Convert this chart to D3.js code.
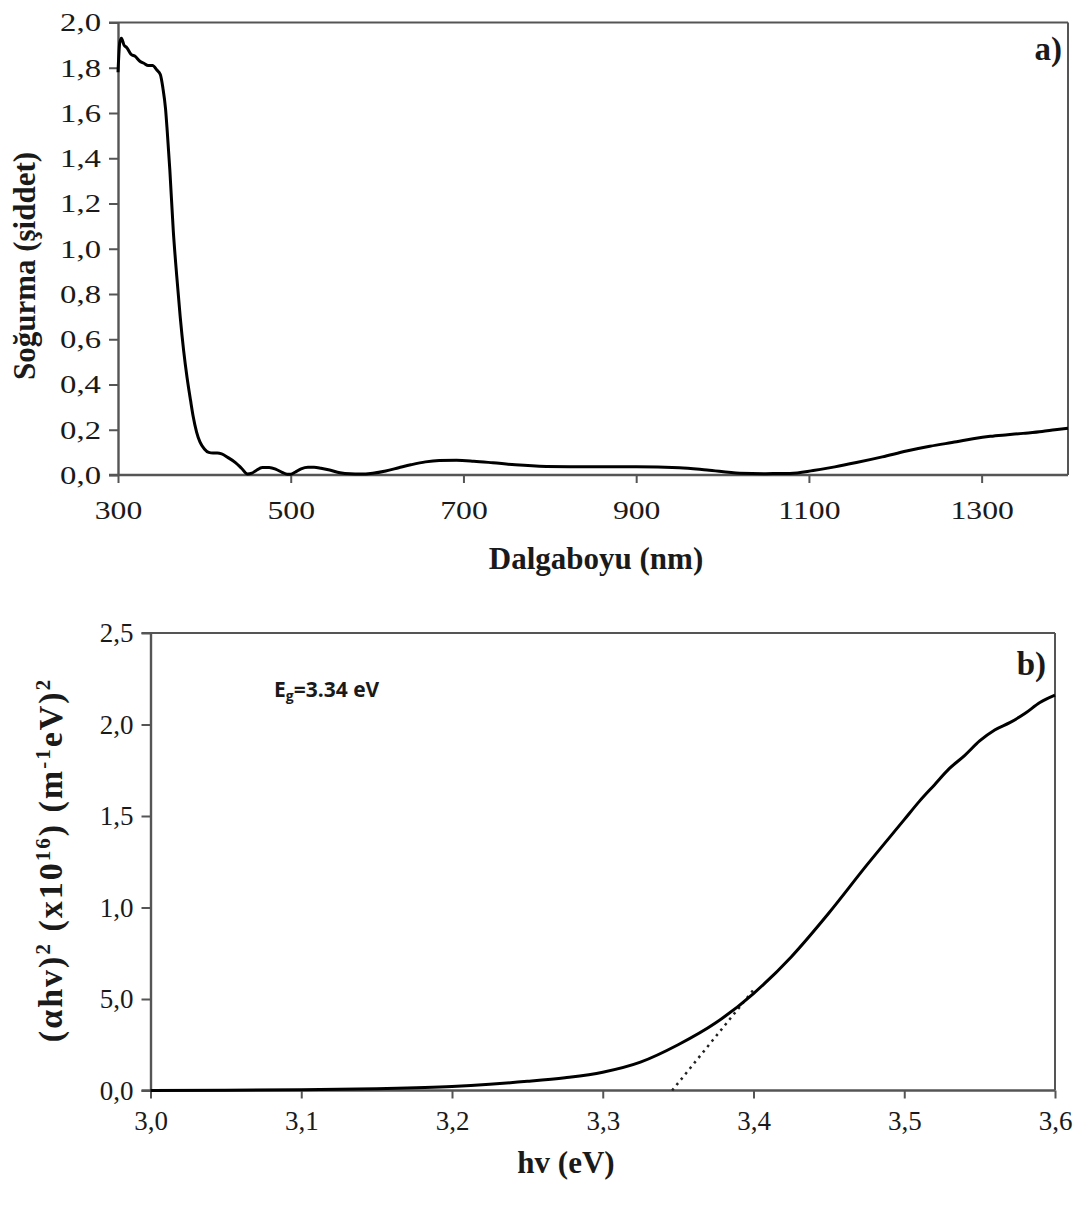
<!DOCTYPE html>
<html><head><meta charset="utf-8">
<script src="https://cdn.jsdelivr.net/npm/d3@7"></script>
<style>
body{margin:0;background:#fff}
svg text{font-family:"Liberation Serif","Times New Roman",serif;fill:#1a1a1a}
.ttl{font-weight:bold;font-size:31px}
.pa .yax .tick text{transform-box:fill-box;transform-origin:right center;transform:scaleX(1.26)}
.pa .xax .tick text{transform-box:fill-box;transform-origin:center center;transform:scaleX(1.22)}
</style></head>
<body><svg id="c" width="1082" height="1207"></svg>
<script>
// ---- Panel a data ----
const wavelength = [300,302,304,307,310,315,320,325,330,335,340,345,349,352,355,357,360,364,368,372,376,380,384,387,391,395,400,405,410,415,420,427,436,443,450,455,460,467,475,483,490,496,500,505,512,520,527,535,545,557,569,580,595,610,625,639,656,672,692,712,734,760,796,850,900,950,982,1020,1050,1078,1105,1130,1155,1185,1213,1240,1271,1290,1310,1330,1348,1370,1385,1400];
const absorbance = [1.78,1.91,1.93,1.90,1.89,1.86,1.85,1.83,1.82,1.81,1.81,1.79,1.77,1.71,1.62,1.52,1.35,1.08,0.88,0.70,0.55,0.43,0.33,0.26,0.19,0.145,0.115,0.10,0.097,0.097,0.093,0.078,0.055,0.03,0.004,0.008,0.02,0.033,0.033,0.025,0.012,0.003,0.003,0.012,0.027,0.034,0.034,0.03,0.022,0.01,0.005,0.004,0.008,0.018,0.032,0.045,0.058,0.064,0.065,0.061,0.054,0.045,0.038,0.036,0.036,0.032,0.022,0.008,0.006,0.007,0.02,0.036,0.055,0.08,0.106,0.127,0.147,0.16,0.171,0.178,0.184,0.192,0.2,0.207];
const aXTicks = [300,500,700,900,1100,1300];
const aYTicks = [0,0.2,0.4,0.6,0.8,1.0,1.2,1.4,1.6,1.8,2.0];
const aYLabels = ["0,0","0,2","0,4","0,6","0,8","1,0","1,2","1,4","1,6","1,8","2,0"];

// ---- Panel b data ----
const energy = [3.0,3.05,3.1,3.15,3.2,3.225,3.25,3.275,3.3,3.325,3.35,3.375,3.4,3.425,3.45,3.475,3.5,3.51,3.52,3.53,3.54,3.55,3.56,3.57,3.58,3.59,3.6];
const alphaHv2 = [0.0,0.001,0.004,0.01,0.022,0.034,0.05,0.07,0.10,0.155,0.25,0.37,0.53,0.73,0.97,1.23,1.48,1.58,1.67,1.76,1.83,1.91,1.97,2.01,2.06,2.12,2.16];
const tangentE = [3.346,3.4];
const tangentV = [0.0,0.55];
const bXTicks = [3.0,3.1,3.2,3.3,3.4,3.5,3.6];
const bXLabels = ["3,0","3,1","3,2","3,3","3,4","3,5","3,6"];
const bYTicks = [0,0.5,1.0,1.5,2.0,2.5];
const bYLabels = ["0,0","5,0","1,0","1,5","2,0","2,5"];

const svg = d3.select("#c");
const axisColor = "#555";

function panel(o){
  const g = svg.append("g").attr("class",o.cls);
  const x = d3.scaleLinear().domain(o.xd).range([o.x0,o.x1]);
  const y = d3.scaleLinear().domain(o.yd).range([o.y0,o.y1]);
  g.append("line").attr("x1",o.x0-9).attr("x2",o.x1).attr("y1",o.y1).attr("y2",o.y1).attr("stroke",axisColor).attr("stroke-width",2);
  g.append("line").attr("x1",o.x1).attr("x2",o.x1).attr("y1",o.y1).attr("y2",o.y0).attr("stroke",axisColor).attr("stroke-width",2);
  const ya = g.append("g").attr("class","yax").attr("transform",`translate(${o.x0},0)`)
    .call(d3.axisLeft(y).tickValues(o.yt).tickFormat((d,i)=>o.yl[i]).tickSize(9).tickPadding(o.ypad).tickSizeOuter(0));
  const xa = g.append("g").attr("class","xax").attr("transform",`translate(0,${o.y0})`)
    .call(d3.axisBottom(x).tickValues(o.xt).tickFormat((d,i)=>o.xl[i]).tickSize(8).tickPadding(o.xpad).tickSizeOuter(0));
  [ya,xa].forEach(a=>{a.select(".domain").attr("stroke",axisColor).attr("stroke-width",2.4);
    a.selectAll(".tick line").attr("stroke",axisColor).attr("stroke-width",2);
    a.selectAll(".tick text").attr("fill","#1a1a1a").style("font-size",o.fs+"px").style("font-family","'Liberation Serif',serif");});
  xa.select(".domain").attr("d",`M${o.x0-9},0H${o.x1}`);
  return {g,x,y};
}

// Panel a
const A = panel({cls:"pa",xd:[300,1400],yd:[0,2],x0:118,x1:1068,y0:475,y1:22.5,xt:aXTicks,xl:aXTicks.map(String),yt:aYTicks,yl:aYLabels,xpad:18,ypad:8,fs:26});
A.g.append("path").datum(wavelength.map((w,i)=>[w,absorbance[i]]))
  .attr("fill","none").attr("stroke","#000").attr("stroke-width",3).attr("stroke-linejoin","round")
  .attr("d",d3.line().x(d=>A.x(d[0])).y(d=>A.y(d[1])).curve(d3.curveMonotoneX));
svg.append("text").attr("class","ttl").attr("x",596).attr("y",569).attr("text-anchor","middle").text("Dalgaboyu (nm)");
svg.append("text").attr("class","ttl").attr("transform","translate(35,266) rotate(-90)").attr("text-anchor","middle").text("Soğurma (şiddet)");
svg.append("text").attr("class","ttl").attr("x",1062).attr("y",60).attr("text-anchor","end").style("font-size","33px").text("a)");

// Panel b
const B = panel({cls:"pb",xd:[3.0,3.6],yd:[0,2.5],x0:150.5,x1:1055,y0:1090.5,y1:633,xt:bXTicks,xl:bXLabels,yt:bYTicks,yl:bYLabels,xpad:12,ypad:8,fs:27});
B.g.append("path").datum(tangentE.map((e,i)=>[e,tangentV[i]]))
  .attr("fill","none").attr("stroke","#222").attr("stroke-width",2.5).attr("stroke-dasharray","2.5,4.5")
  .attr("d",d3.line().x(d=>B.x(d[0])).y(d=>B.y(d[1])));
B.g.append("path").datum(energy.map((e,i)=>[e,alphaHv2[i]]))
  .attr("fill","none").attr("stroke","#000").attr("stroke-width",3).attr("stroke-linejoin","round")
  .attr("d",d3.line().x(d=>B.x(d[0])).y(d=>B.y(d[1])).curve(d3.curveMonotoneX));
svg.append("text").attr("class","ttl").attr("x",566).attr("y",1173).attr("text-anchor","middle").style("font-size","31px").text("hv (eV)");
const yt = svg.append("text").attr("class","ttl").attr("transform","translate(62,860) rotate(-90)").attr("text-anchor","middle").style("font-size","34px").style("letter-spacing","2px");
yt.append("tspan").text("(αhv)");
yt.append("tspan").attr("baseline-shift","super").style("font-size","21px").text("2");
yt.append("tspan").text(" (x10");
yt.append("tspan").attr("baseline-shift","super").style("font-size","21px").text("16");
yt.append("tspan").text(") (m");
yt.append("tspan").attr("baseline-shift","super").style("font-size","21px").text("-1");
yt.append("tspan").text("eV)");
yt.append("tspan").attr("baseline-shift","super").style("font-size","21px").text("2");
svg.append("text").attr("class","ttl").attr("x",1046).attr("y",675).attr("text-anchor","end").style("font-size","33px").text("b)");
const eg = svg.append("text").attr("x",274).attr("y",697).style("font-family","'Open Sans',sans-serif").style("font-weight","bold").style("font-size","21px");
eg.append("tspan").text("E");
eg.append("tspan").attr("baseline-shift","-25%").style("font-size","14px").text("g");
eg.append("tspan").text("=3.34 eV");
</script></body></html>
